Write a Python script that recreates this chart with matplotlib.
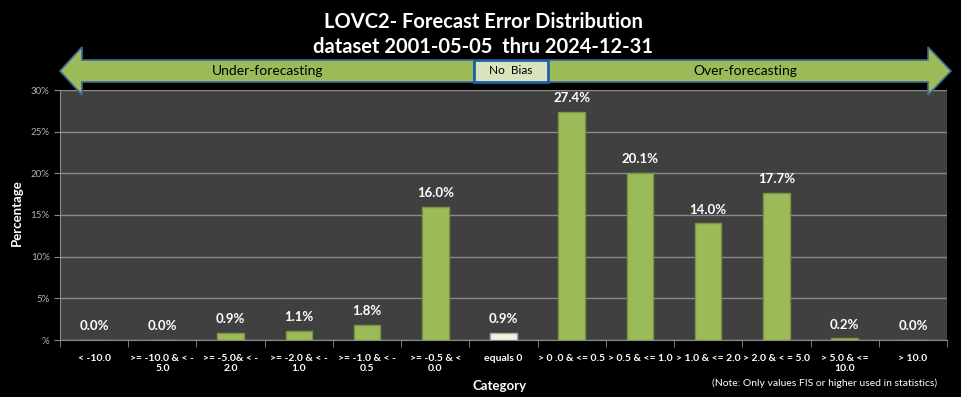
import numpy as np
from matplotlib import pyplot as plt
from matplotlib import font_manager
from matplotlib.patches import Polygon, Rectangle
from matplotlib.ticker import FuncFormatter

categories = ['< -10.0', '>= -10.0 & < -\n5.0', '>= -5.0& < -\n2.0', '>= -2.0 & < -\n1.0',
              '>= -1.0 & < -\n0.5', '>= -0.5 & <\n0.0', 'equals 0', '> 0 .0 & <= 0.5',
              '> 0.5 & <= 1.0', '> 1.0 & <= 2.0', '> 2.0 & < = 5.0', '> 5.0 & <=\n10.0', '> 10.0']
percent = [0.0, 0.0, 0.9, 1.1, 1.8, 16.0, 0.9, 27.4, 20.1, 14.0, 17.7, 0.2, 0.0]
zero_index = 6

available = {f.name for f in font_manager.fontManager.ttflist}
narrow = 'Liberation Sans Narrow' if 'Liberation Sans Narrow' in available else 'Lato'
plt.rcParams['font.family'] = [narrow, 'DejaVu Sans']

W, H = 961, 397
fig = plt.figure(figsize=(W / 100, H / 100), dpi=100, facecolor='black')


def px(x, y):
    return (x / W, 1 - y / H)


ax = fig.add_axes([60 / W, 1 - 340 / H, (947 - 60) / W, (340 - 90) / H])
ax.set_facecolor('#404040')

x = np.arange(len(categories))
colors = ['#9bbb59'] * len(categories)
colors[zero_index] = '#eef3e2'
edges = ['#7a9642'] * len(categories)
edges[zero_index] = '#a5b592'
bars = ax.bar(x, percent, width=0.39, color=colors, edgecolor=edges, linewidth=1, zorder=3)
for b, v in zip(bars, percent):
    ax.annotate(f'{v:.1f}%', (b.get_x() + b.get_width() / 2, v), xytext=(0, 5.5),
                textcoords='offset points', ha='center', va='bottom', color='white',
                fontsize=9.5, fontweight='bold')

ax.set_xlim(-0.5, len(categories) - 0.5)
ax.set_ylim(0, 30)
ax.set_yticks(range(0, 31, 5))
ax.yaxis.set_major_formatter(FuncFormatter(lambda v, p: '%' if v == 0 else f'{int(v)}%'))
ax.grid(axis='y', color='#8a8a8a', linewidth=1, zorder=0)
ax.set_axisbelow(True)
ax.set_xticks(x)
ax.set_xticklabels(categories, color='white', fontsize=7.5, fontweight='bold')
ax.set_xticks(np.arange(-0.5, len(categories)), minor=True)
ax.tick_params(axis='x', which='major', length=0, pad=10)
ax.tick_params(axis='x', which='minor', length=5, color='#8a8a8a')
ax.tick_params(axis='y', length=4, color='#8a8a8a', labelcolor='#b0b0b0', labelsize=7)
for s in ['top', 'right']:
    ax.spines[s].set_visible(False)
for s in ['left', 'bottom']:
    ax.spines[s].set_color('#8a8a8a')

fig.text(*px(17, 213), 'Percentage', rotation=90, ha='center', va='center',
         color='white', fontsize=9.5, fontweight='bold')
fig.text(*px(500, 386), 'Category', ha='center', va='center',
         color='white', fontsize=9.5, fontweight='bold')
fig.text(*px(825, 383), '(Note: Only values FIS or higher used in statistics)', ha='center',
         va='center', color='white', fontsize=7.5)

fig.text(*px(483, 22), 'LOVC2- Forecast Error Distribution', ha='center', va='center',
         color='white', fontsize=14.5, fontweight='bold')
fig.text(*px(483, 47), 'dataset 2001-05-05  thru 2024-12-31', ha='center', va='center',
         color='white', fontsize=14.5, fontweight='bold')

# bias arrows
left = [(60, 71), (82, 47), (82, 60), (474, 60), (474, 82), (82, 82), (82, 95)]
right = [(548, 60), (928, 60), (928, 47), (951, 71), (928, 95), (928, 82), (548, 82)]
for pts in (left, right):
    fig.patches.append(Polygon([px(*p) for p in pts], closed=True, transform=fig.transFigure,
                               facecolor='#9bbb59', edgecolor='#3f6694', linewidth=1.2))
fig.patches.append(Rectangle(px(474, 82), 74 / W, 22 / H, transform=fig.transFigure,
                             facecolor='#d7e4bd', edgecolor='#1f5fa8', linewidth=2))
fig.text(*px(268, 71), 'Under-forecasting', ha='center', va='center', fontsize=10)
fig.text(*px(511, 71), 'No  Bias', ha='center', va='center', fontsize=8.5)
fig.text(*px(745, 71), 'Over-forecasting', ha='center', va='center', fontsize=10)

fig.savefig('out.png', dpi=100, facecolor='black')
